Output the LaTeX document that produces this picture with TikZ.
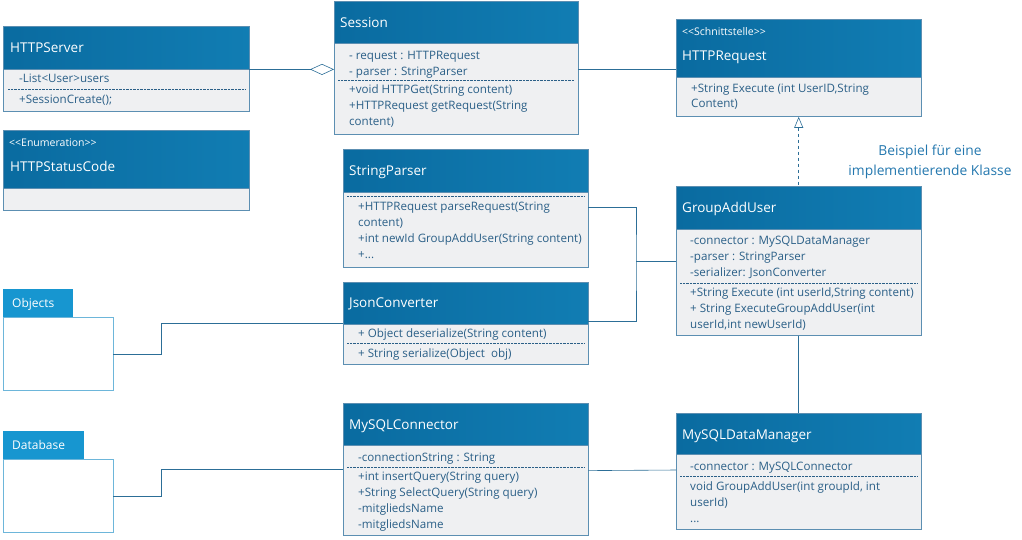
\documentclass[tikz,border=0pt]{standalone}
\usepackage{fontspec}
\setmainfont{Open Sans}
\usetikzlibrary{arrows.meta}

\definecolor{hdblue}{HTML}{0A6BA0}
\definecolor{hdblueB}{HTML}{117DB3}
\definecolor{bodygray}{HTML}{EFF0F2}
\definecolor{frameblue}{HTML}{5C8FB2}
\definecolor{txtblue}{HTML}{2A5F87}
\definecolor{pkgblue}{HTML}{1796D0}
\definecolor{pkgframe}{HTML}{6DB6DA}
\definecolor{linkblue}{HTML}{2C6E97}
\definecolor{noteblue}{HTML}{2377AE}

\tikzset{
  hdbox/.style={draw=frameblue, left color=hdblue, right color=hdblueB, inner sep=0pt, anchor=north west},
  bodybox/.style={draw=frameblue, fill=bodygray, inner sep=0pt, anchor=north west},
  pkgtab/.style={fill=pkgblue, draw=pkgblue, inner sep=0pt, anchor=north west},
  pkgbody/.style={draw=pkgframe, fill=white, inner sep=0pt, anchor=north west},
  clname/.style={text=white, font=\fontsize{13.5}{15}\selectfont, anchor=base west, inner sep=0pt},
  stereo/.style={text=white, font=\fontsize{10.5}{11}\selectfont, anchor=base west, inner sep=0pt},
  pkgname/.style={text=white, font=\fontsize{12}{13}\selectfont, anchor=base west, inner sep=0pt},
  member/.style={text=txtblue, font=\fontsize{11.6}{12}\selectfont, anchor=base west, inner sep=0pt},
  sep/.style={densely dotted, txtblue},
  link/.style={linkblue, semithick},
}

\begin{document}
\begin{tikzpicture}[x=1pt, y=-1pt]
\useasboundingbox (0,0) rectangle (1022,539);

% HTTPServer
\node[hdbox, minimum width=246, minimum height=43] (serverH) at (3,26) {};
\node[bodybox, minimum width=246, minimum height=42] (server) at (serverH.south west) {};
\node[clname] (serverN) at (10,52) {HTTPServer};
\node[member] (serverA) at (19,82) {-List{<}User{>}users};
\draw[sep] (8,89) -- (245,89);
\node[member] (serverM) at (19,103) {+SessionCreate();};

% HTTPStatusCode
\node[hdbox, minimum width=246, minimum height=58] (statusH) at (3,130) {};
\node[bodybox, minimum width=246, minimum height=22] (status) at (statusH.south west) {};
\node[stereo] (statusS) at (9,146) {{<}{<}Enumeration{>}{>}};
\node[clname] (statusN) at (10,171) {HTTPStatusCode};

% Session
\node[hdbox, minimum width=244, minimum height=42] (sessionH) at (334,1) {};
\node[bodybox, minimum width=244, minimum height=91] (session) at (sessionH.south west) {};
\node[clname] (sessionN) at (340,27) {Session};
\node[member] (sessionA1) at (349,59) {- request : HTTPRequest};
\node[member] (sessionA2) at (349,75) {- parser : StringParser};
\draw[sep] (338,80) -- (574,80);
\node[member] (sessionM1) at (349,93) {+void HTTPGet(String content)};
\node[member] (sessionM2) at (349,109) {+HTTPRequest getRequest(String};
\node[member] (sessionM3) at (349,125) {content)};

% HTTPRequest
\node[hdbox, minimum width=245, minimum height=58] (reqH) at (676,19) {};
\node[bodybox, minimum width=245, minimum height=39] (req) at (reqH.south west) {};
\node[stereo] (reqS) at (682,35) {{<}{<}Schnittstelle{>}{>}};
\node[clname] (reqN) at (682,60) {HTTPRequest};
\node[member] (reqM1) at (691,92) {+String Execute (int UserID,String};
\node[member] (reqM2) at (691,107) {Content)};

% StringParser
\node[hdbox, minimum width=245, minimum height=43] (parserH) at (343,149) {};
\node[bodybox, minimum width=245, minimum height=75] (parser) at (parserH.south west) {};
\node[clname] (parserN) at (349,175) {StringParser};
\draw[sep] (347,196) -- (584,196);
\node[member] (parserM1) at (358,210) {+HTTPRequest parseRequest(String};
\node[member] (parserM2) at (358,226) {content)};
\node[member] (parserM3) at (358,242) {+int newId GroupAddUser(String content)};
\node[member] (parserM4) at (358,258) {+...};

% JsonConverter
\node[hdbox, minimum width=245, minimum height=42] (jsonH) at (343,282) {};
\node[bodybox, minimum width=245, minimum height=40] (json) at (jsonH.south west) {};
\node[clname] (jsonN) at (349,307) {JsonConverter};
\node[member] (jsonM1) at (358,337) {+ Object deserialize(String content)};
\draw[sep] (347,343) -- (584,343);
\node[member] (jsonM2) at (358,357) {+ String serialize(Object\ \ obj)};

% GroupAddUser
\node[hdbox, minimum width=245, minimum height=43] (groupH) at (676,186) {};
\node[bodybox, minimum width=245, minimum height=106] (group) at (groupH.south west) {};
\node[clname] (groupN) at (682,212) {GroupAddUser};
\node[member] (groupA1) at (690,244) {-connector : MySQLDataManager};
\node[member] (groupA2) at (690,260) {-parser : StringParser};
\node[member] (groupA3) at (690,276) {-serializer: JsonConverter};
\draw[sep] (680,283) -- (917,283);
\node[member] (groupM1) at (690,296) {+String Execute (int userId,String content)};
\node[member] (groupM2) at (690,312) {+ String ExecuteGroupAddUser(int};
\node[member] (groupM3) at (690,328) {userId,int newUserId)};

% MySQLConnector
\node[hdbox, minimum width=245, minimum height=42] (sqlcH) at (343,403) {};
\node[bodybox, minimum width=245, minimum height=90] (sqlc) at (sqlcH.south west) {};
\node[clname] (sqlcN) at (349,429) {MySQLConnector};
\node[member] (sqlcA) at (358,461) {-connectionString : String};
\draw[sep] (347,467) -- (584,467);
\node[member] (sqlcM1) at (358,480) {+int insertQuery(String query)};
\node[member] (sqlcM2) at (358,496) {+String SelectQuery(String query)};
\node[member] (sqlcM3) at (358,512) {-mitgliedsName};
\node[member] (sqlcM4) at (358,528) {-mitgliedsName};

% MySQLDataManager
\node[hdbox, minimum width=245, minimum height=41] (dmH) at (676,413) {};
\node[bodybox, minimum width=245, minimum height=75] (dm) at (dmH.south west) {};
\node[clname] (dmN) at (682,439) {MySQLDataManager};
\node[member] (dmA) at (690,470) {-connector : MySQLConnector};
\draw[sep] (680,476) -- (917,476);
\node[member] (dmM1) at (690,490) {void GroupAddUser(int groupId, int};
\node[member] (dmM2) at (690,506) {userId)};
\node[member] (dmM3) at (690,522) {...};

% packages
\node[pkgtab, minimum width=69, minimum height=28] (objectsT) at (3,289) {};
\node[pkgbody, minimum width=110, minimum height=73] (objects) at (objectsT.south west) {};
\node[pkgname] (objectsN) at (12,307) {Objects};
\node[pkgtab, minimum width=80, minimum height=28] (dbT) at (3,431) {};
\node[pkgbody, minimum width=110, minimum height=73] (db) at (dbT.south west) {};
\node[pkgname] (dbN) at (12,449) {Database};

% note
\node[text=noteblue, font=\fontsize{13.8}{20}\selectfont, align=center] (hint) at (930,162) {Beispiel für eine\\implementierende Klasse};

% connectors
\coordinate (bus) at (636,261);
\draw[link, -{Diamond[open, length=24pt, width=11pt]}] (serverH.south east) -- (session.west |- serverH.south east);
\draw[link] (session.east |- serverH.south) -- (reqH.west |- serverH.south);
\draw[link, dashed, {Triangle[open, length=11pt, width=9pt]}-] (req.south) -- (groupH.north);
\draw[link] ([yshift=22.5pt]parser.east) -| (bus) |- ([yshift=3pt]jsonH.south east);
\draw[link] (bus) -- (group.west |- bus);
\draw[link] (objects.east) -- ([xshift=48pt]objects.east) |- ([yshift=1pt]jsonH.south west);
\draw[link] (group.south) -- (dmH.north);
\draw[link] (db.east) -- ([xshift=48pt]db.east) |- ([yshift=21pt]sqlc.west);
\draw[link] ([yshift=20pt]sqlc.east) -- (dm.west |- 0,470);

\end{tikzpicture}
\end{document}
